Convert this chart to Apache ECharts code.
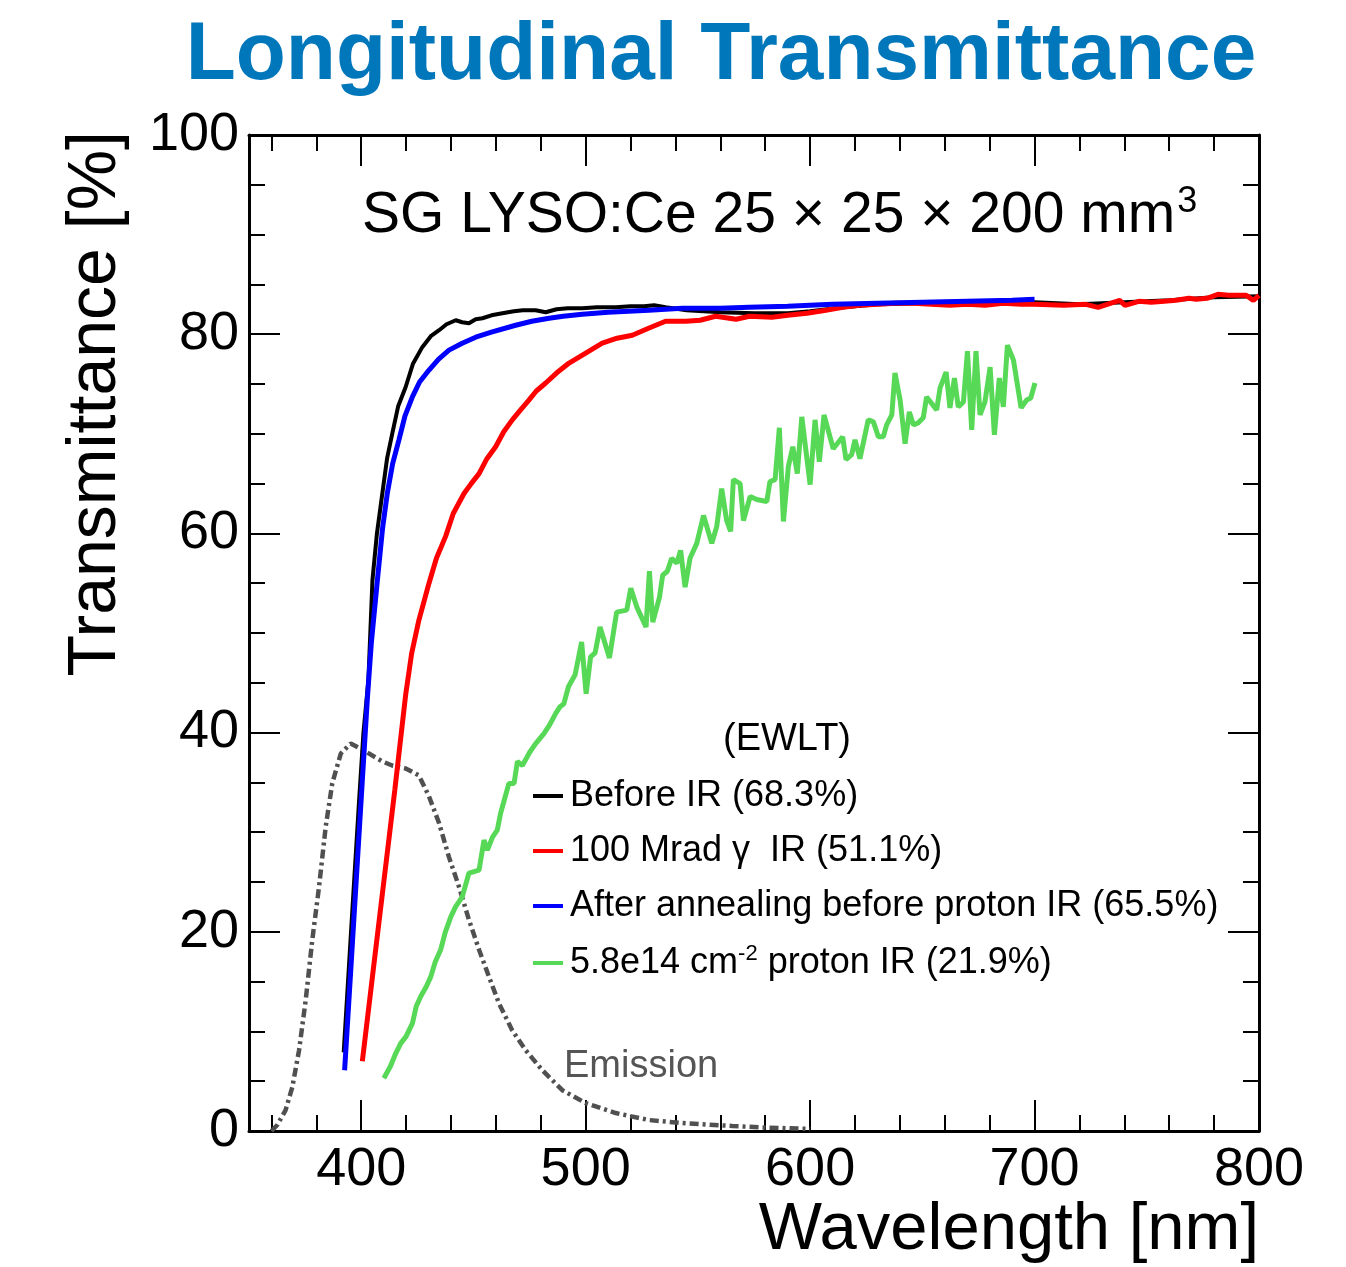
<!DOCTYPE html>
<html>
<head>
<meta charset="utf-8">
<script src="https://cdn.jsdelivr.net/npm/echarts@6/dist/echarts.min.js"></script>
<style>
  html, body { margin: 0; padding: 0; background: #fff; }
  #chart { width: 1346px; height: 1267px; }
</style>
</head>
<body>
<div id="chart"></div>
<script>
// ticks
const xMajorTicks = [400, 500, 600, 700, 800];
const xMinorTicks = [360, 380, 420, 440, 460, 480, 520, 540, 560, 580, 620, 640, 660, 680, 720, 740, 760, 780];
const yMajorTicks = [0, 20, 40, 60, 80, 100];
const yMinorTicks = [5, 10, 15, 25, 30, 35, 45, 50, 55, 65, 70, 75, 85, 90, 95];

// emission spectrum (dash-dot)
const emissionWl = [360, 362.6, 366.3, 369.3, 372.3, 375.3, 378.2, 381.2, 384.2, 387.1, 390.9, 395.3, 402, 409.4, 413.8, 419.8, 425.7, 430.2, 434.7, 439.1, 443.6, 448, 452.5, 456.9, 461.4, 467.3, 473.3, 480.7, 489.6, 500, 513.4, 528.2, 543.1, 565.3, 580, 600];
const emissionT = [0, 0.6, 2.1, 4.4, 8.1, 13.2, 19.2, 24.5, 30.6, 34.9, 37.9, 38.9, 38.1, 37.1, 36.7, 36.4, 35.7, 33.6, 30.9, 27.5, 24.5, 21.2, 18.2, 15.5, 12.8, 10.1, 8.1, 6.1, 4.1, 2.8, 1.8, 1.1, 0.8, 0.5, 0.35, 0.2];

// before IR
const beforeWl = [392.2, 396, 399, 401, 403.2, 405, 407, 409.4, 411.5, 413.8, 416.5, 419.8, 423, 427.2, 431, 434.7, 438, 442.1, 445, 448, 451, 454, 458, 462.9, 468, 472, 477.7, 482.2, 487, 492, 498.5, 505, 513.4, 520, 526, 530.5, 535.6, 545, 560, 575, 590, 600, 615, 630, 650, 670, 690, 700, 720, 740, 760, 780, 800];
const beforeT = [7.9, 22, 33, 40, 45.3, 55.3, 60, 64, 67.5, 70, 72.8, 74.7, 77, 78.7, 79.8, 80.4, 81, 81.4, 81.2, 81.1, 81.5, 81.6, 81.9, 82.1, 82.3, 82.4, 82.4, 82.2, 82.5, 82.6, 82.6, 82.7, 82.7, 82.8, 82.8, 82.9, 82.7, 82.4, 82.2, 82.1, 82.1, 82.3, 82.7, 83.0, 83.1, 83.2, 83.2, 83.2, 83.0, 83.2, 83.4, 83.7, 83.8];

// 100 Mrad gamma IR
const gammaWl = [400.5, 405, 410, 415, 419.8, 422.5, 425.7, 430.2, 433.5, 437.6, 441, 445.8, 449, 452.5, 456, 459.9, 463.5, 467.3, 471, 474.8, 478, 482.2, 487, 492.6, 500, 507.4, 514, 520.8, 528, 535.6, 544.6, 551, 557.9, 567, 573, 583, 590, 598.6, 607, 614.6, 622, 630.5, 638, 646.3, 654, 662.3, 670, 678, 686, 694, 700, 713, 722.8, 728.3, 737.9, 740.3, 746.5, 752, 757.7, 763, 768.8, 772, 776.8, 781.7, 786.4, 790, 794.3, 797.5, 800];
const gammaT = [7.0, 15.5, 24.9, 34.3, 43.8, 48, 51.3, 55, 57.5, 59.7, 62, 64, 65, 66, 67.5, 68.7, 70.2, 71.4, 72.4, 73.4, 74.3, 75.1, 76.1, 77.1, 78.1, 79.1, 79.6, 79.9, 80.6, 81.3, 81.3, 81.4, 81.8, 81.5, 81.8, 81.7, 81.9, 82.1, 82.4, 82.7, 82.9, 83.0, 83.1, 83.1, 83.0, 82.9, 83.0, 82.9, 83.1, 83.0, 83.0, 82.9, 83.0, 82.7, 83.4, 82.9, 83.3, 83.2, 83.3, 83.4, 83.6, 83.5, 83.6, 84.0, 83.9, 83.9, 83.9, 83.4, 83.9];

// after annealing, before proton IR
const annealWl = [392.6, 396, 400, 402.7, 404.5, 407.2, 409.5, 411.6, 414, 416.8, 419.5, 422.8, 426, 430.2, 434.5, 439.1, 445, 451, 458, 468.8, 476, 483.7, 490, 498.5, 510, 528.2, 543.1, 560, 572.8, 590, 610, 630, 650, 670, 690, 700];
const annealT = [6.1, 18.6, 33.4, 43.3, 49, 55.3, 60.5, 64, 67, 69.4, 71.8, 73.7, 75.2, 76.4, 77.5, 78.4, 79.1, 79.7, 80.2, 80.9, 81.3, 81.6, 81.8, 82.0, 82.2, 82.4, 82.6, 82.6, 82.7, 82.8, 83.0, 83.1, 83.2, 83.3, 83.4, 83.5];

// 5.8e14 cm-2 proton IR
const protonWl = [410.1, 413, 415.4, 417.6, 420, 422.8, 424.5, 426.5, 429, 431, 433, 435.4, 437.5, 439.9, 442, 445, 448, 452.5, 454.7, 456.2, 458.5, 460.6, 462.1, 465.8, 468.1, 469.6, 471.8, 475, 477.7, 481.4, 484, 486.6, 488.6, 490.3, 492.3, 495.3, 498.2, 500.2, 502.2, 504.2, 506.4, 510.6, 513.8, 518.3, 520.1, 522.8, 526.9, 528.4, 529.9, 532.9, 534.3, 536.4, 538.3, 540.6, 542.3, 544.3, 546.5, 549.5, 552.5, 556.2, 558.4, 560.6, 562.8, 564.6, 565.8, 568.8, 570.3, 573.3, 576.2, 580.7, 582.1, 584.4, 586.3, 588.1, 590.3, 592.3, 594.3, 596.3, 600, 602.2, 604.1, 606.2, 610.3, 614.5, 616, 618.5, 620, 622.2, 625.9, 628.2, 630.4, 632.6, 634.1, 636.4, 637.8, 640.1, 642.3, 644.2, 646, 648.2, 650.4, 651.9, 656.4, 657.9, 660.6, 662.3, 664.3, 666, 668.3, 670.1, 672, 673.9, 675.7, 677.9, 680.2, 682.1, 684.3, 686.1, 687.9, 690.6, 694, 696.5, 698.3, 700.2];
const protonT = [5.3, 6.5, 7.8, 8.8, 9.5, 10.8, 12.5, 13.5, 14.5, 15.5, 17, 18.2, 20, 21.5, 22.5, 23.5, 25.9, 26.2, 29.2, 28.2, 29.5, 30.2, 31.9, 34.9, 34.9, 37.1, 36.7, 38, 38.9, 39.9, 40.8, 41.9, 42.6, 42.9, 44.6, 45.8, 49.1, 43.9, 47.6, 48, 50.6, 47.5, 52.1, 52.3, 54.5, 52.6, 50.6, 56.2, 51.1, 53.6, 55.8, 56.2, 57.5, 57, 58.3, 54.6, 57.5, 59, 61.8, 59, 60.7, 64.5, 61.3, 60.2, 65.4, 65, 61.3, 63.7, 63.4, 63.2, 65.2, 65.4, 70.6, 61.2, 66.7, 68.7, 66, 71.7, 64.9, 71.4, 67.2, 71.9, 68.5, 69.7, 67.4, 67.9, 69.4, 67.5, 71.4, 71.2, 69.7, 69.7, 70.9, 71.9, 76.1, 73.4, 69, 72.2, 70.9, 71.1, 71.6, 73.7, 72.4, 74.6, 76.2, 72.6, 75.6, 72.7, 73.2, 78.3, 70.4, 78.3, 71.9, 73.2, 76.7, 69.9, 75.6, 72.7, 78.9, 77.4, 72.6, 73.4, 73.6, 75.1];

const names = [
  "Before IR (68.3%)",
  "100 Mrad \u03b3  IR (51.1%)",
  "After annealing before proton IR (65.5%)",
  "5.8e14 cm-2 proton IR (21.9%)",
];

const FONT = "Liberation Sans, Arial, Helvetica, sans-serif";
const zip = (xs, ys) => xs.map((x, i) => [x, ys[i]]);

function tickAxis(position, values, length, opts) {
  return Object.assign({
    type: "value",
    position: position,
    axisLine: { show: false, onZero: false },
    axisTick: {
      show: true, inside: true, length: length, customValues: values,
      lineStyle: { color: "#000", width: 2 },
    },
    axisLabel: { show: false },
    splitLine: { show: false },
  }, opts);
}

const chart = echarts.init(document.getElementById("chart"), null, { renderer: "canvas" });

const frameLine = { show: true, onZero: false, lineStyle: { color: "#000", width: 3 } };

chart.setOption({
  animation: false,
  backgroundColor: "#fff",
  textStyle: { fontFamily: FONT },
  grid: { left: 249, right: 87, top: 135, bottom: 136, outerBoundsMode: "none" },
  xAxis: [
    tickAxis("bottom", xMajorTicks, 31, {
      min: 350, max: 800,
      axisLine: frameLine,
      axisLabel: {
        show: true, customValues: xMajorTicks, fontSize: 54, margin: 12,
        color: "#000", fontFamily: FONT,
      },
    }),
    tickAxis("bottom", xMinorTicks, 16, { min: 350, max: 800 }),
    tickAxis("top", xMajorTicks, 31, { min: 350, max: 800, axisLine: frameLine }),
    tickAxis("top", xMinorTicks, 16, { min: 350, max: 800 }),
  ],
  yAxis: [
    tickAxis("left", yMajorTicks, 31, {
      min: 0, max: 100,
      axisLine: frameLine,
      axisLabel: {
        show: true, customValues: yMajorTicks, fontSize: 54, margin: 10,
        color: "#000", fontFamily: FONT,
      },
    }),
    tickAxis("left", yMinorTicks, 16, { min: 0, max: 100 }),
    tickAxis("right", yMajorTicks, 31, { min: 0, max: 100, axisLine: frameLine }),
    tickAxis("right", yMinorTicks, 16, { min: 0, max: 100 }),
  ],
  legend: {
    data: names,
    orient: "vertical",
    left: 533,
    top: 778,
    padding: 0,
    icon: "rect",
    itemWidth: 30,
    itemHeight: 4,
    itemGap: 19,
    selectedMode: false,
    formatter: (name) => name === names[3]
      ? "{t|5.8e14 cm}{s|-2}{t| proton IR (21.9%)}"
      : "{t|" + name + "}",
    textStyle: {
      padding: [0, 0, 0, 2],
      rich: {
        t: { fontSize: 36, lineHeight: 40, color: "#000", fontFamily: FONT },
        s: { fontSize: 22, lineHeight: 40, verticalAlign: "top", color: "#000", fontFamily: FONT, padding: [0, 0, 14, 0] },
      },
    },
  },
  graphic: [
    {
      type: "text", x: 721, y: 56,
      style: {
        text: "Longitudinal Transmittance", fill: "#0077bb",
        font: "bold 82px " + FONT, align: "center", verticalAlign: "middle",
      },
    },
    {
      type: "text", x: 362, y: 216,
      style: {
        text: "{a|SG LYSO:Ce 25 \u00d7 25 \u00d7 200 mm}{b|3}",
        align: "left", verticalAlign: "middle",
        rich: {
          a: { fontSize: 57, fontFamily: FONT, fill: "#000", lineHeight: 64 },
          b: { fontSize: 36, fontFamily: FONT, fill: "#000", lineHeight: 64, verticalAlign: "top", padding: [0, 0, 0, 2] },
        },
      },
    },
    {
      type: "text", x: 787, y: 740,
      style: {
        text: "(EWLT)", fill: "#000", font: "38px " + FONT,
        align: "center", verticalAlign: "middle",
      },
    },
    {
      type: "text", x: 564, y: 1067,
      style: {
        text: "Emission", fill: "#555555", font: "38px " + FONT,
        align: "left", verticalAlign: "middle",
      },
    },
    {
      type: "text", x: 1259, y: 1231,
      style: {
        text: "Wavelength [nm]", fill: "#000", font: "67px " + FONT,
        align: "right", verticalAlign: "middle",
      },
    },
    {
      type: "text", x: 96, y: 131, rotation: Math.PI / 2,
      style: {
        text: "Transmittance [%]", fill: "#000", font: "68px " + FONT,
        align: "right", verticalAlign: "middle",
      },
    },
  ],
  series: [
    {
      name: "Emission", type: "line", showSymbol: false, silent: true,
      data: zip(emissionWl, emissionT),
      lineStyle: { color: "#505050", width: 4.5, type: [9, 4, 3, 4], cap: "butt" },
    },
    {
      name: names[0], type: "line", showSymbol: false, color: "#000000",
      data: zip(beforeWl, beforeT),
      lineStyle: { color: "#000000", width: 4 },
    },
    {
      name: names[1], type: "line", showSymbol: false, color: "#ff0000",
      data: zip(gammaWl, gammaT),
      lineStyle: { color: "#ff0000", width: 5 },
    },
    {
      name: names[2], type: "line", showSymbol: false, color: "#0000ff",
      data: zip(annealWl, annealT),
      lineStyle: { color: "#0000ff", width: 5 },
    },
    {
      name: names[3], type: "line", showSymbol: false, color: "#57d957",
      data: zip(protonWl, protonT),
      lineStyle: { color: "#57d957", width: 5 },
    },
  ],
});
</script>
</body>
</html>
